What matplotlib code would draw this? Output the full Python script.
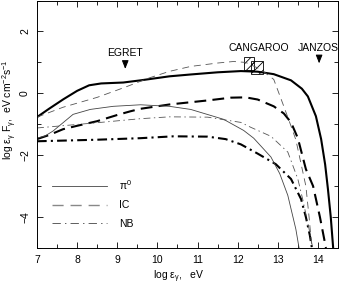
import matplotlib
matplotlib.use("Agg")
import matplotlib.pyplot as plt
from matplotlib.lines import Line2D
from matplotlib.patches import Rectangle

plt.rcParams['font.family'] = ['Liberation Sans', 'DejaVu Sans']
plt.rcParams['mathtext.default'] = 'regular'
plt.rcParams['lines.scale_dashes'] = False
plt.rcParams['hatch.linewidth'] = 0.6

# thick curves (model 1)
pi0_thick_x = [7.0, 7.3, 7.66, 8.0, 8.3, 8.6, 9.15, 9.58, 10.3, 10.83, 11.5, 12.08, 12.5, 12.9,
               13.33, 13.6, 13.75, 13.95, 14.08, 14.18, 14.25, 14.32, 14.38]
pi0_thick_y = [-0.77, -0.5, -0.19, 0.08, 0.26, 0.32, 0.35, 0.42, 0.55, 0.61, 0.68, 0.72, 0.7, 0.62,
               0.42, 0.15, -0.1, -0.74, -1.48, -2.3, -3.1, -4.0, -5.0]

ic_thick_x = [7.0, 7.3, 7.65, 8.0, 8.5, 9.0, 9.33, 9.58, 10.3, 11.25, 11.83, 12.2, 12.5, 12.9,
              13.15, 13.33, 13.5, 13.7, 13.88, 14.05, 14.2]
ic_thick_y = [-1.48, -1.35, -1.16, -1.05, -0.9, -0.7, -0.58, -0.5, -0.36, -0.23, -0.14, -0.13, -0.2,
              -0.42, -0.65, -0.94, -1.45, -2.45, -3.0, -4.0, -5.0]

nb_thick_x = [7.0, 8.5, 9.58, 10.4, 11.25, 11.7, 12.08, 12.5, 12.95, 13.33, 13.58, 13.7, 13.8, 13.85]
nb_thick_y = [-1.55, -1.5, -1.45, -1.39, -1.4, -1.48, -1.65, -1.95, -2.29, -2.77, -3.42, -4.0, -4.6, -5.0]

# thin curves (model 2)
pi0_thin_x = [7.0, 7.2, 7.4, 7.65, 7.9, 8.33, 8.9, 9.58, 10.3, 10.83, 11.65, 12.15, 12.4, 12.83,
              13.05, 13.25, 13.45, 13.53]
pi0_thin_y = [-1.45, -1.38, -1.22, -0.95, -0.68, -0.52, -0.42, -0.37, -0.42, -0.52, -0.84, -1.2,
              -1.45, -2.06, -2.6, -3.3, -4.39, -5.0]

ic_thin_x = [7.0, 7.65, 8.5, 9.2, 9.8, 10.3, 10.83, 11.5, 11.9, 12.2, 12.58, 12.9, 13.15, 13.33,
             13.45, 13.6, 13.7, 13.78, 13.85]
ic_thin_y = [-0.77, -0.45, -0.13, 0.2, 0.5, 0.71, 0.87, 0.98, 1.03, 1.0, 0.77, 0.45, -0.42, -1.06,
             -1.5, -2.4, -3.0, -4.0, -5.0]

nb_thin_x = [7.0, 8.5, 9.58, 10.3, 11.25, 12.08, 12.33, 12.83, 13.25, 13.5, 13.62, 13.78, 13.87]
nb_thin_y = [-1.12, -0.95, -0.82, -0.76, -0.77, -0.94, -1.1, -1.39, -1.9, -2.77, -3.42, -4.39, -5.0]

# CANGAROO boxes (x range, y range)
box_x0 = [12.15, 12.33]
box_x1 = [12.4, 12.63]
box_y0 = [0.77, 0.61]
box_y1 = [1.16, 1.03]

fig = plt.figure(figsize=(3.39, 2.85), dpi=100)
ax = fig.add_axes([0.109, 0.13, 0.888, 0.868])

ax.plot(pi0_thick_x, pi0_thick_y, color='black', lw=1.5)
ax.plot(ic_thick_x, ic_thick_y, color='black', lw=1.5, dashes=(8.5, 4.5))
ax.plot(nb_thick_x, nb_thick_y, color='black', lw=1.5, dashes=(7, 3, 1.5, 3))
ax.plot(pi0_thin_x, pi0_thin_y, color='#444444', lw=0.6)
ax.plot(ic_thin_x, ic_thin_y, color='#555555', lw=0.6, dashes=(5, 3.5))
ax.plot(nb_thin_x, nb_thin_y, color='#555555', lw=0.6, dashes=(5, 2.5, 1, 2.5))

for i in range(len(box_x0)):
    ax.add_patch(Rectangle((box_x0[i], box_y0[i]), box_x1[i] - box_x0[i], box_y1[i] - box_y0[i],
                           fill=False, hatch='////', lw=0.6, edgecolor='black'))

# labels for experiments
fs = 7.5
ax.text(9.2, 1.32, 'EGRET', ha='center', va='center', fontsize=fs)
ax.annotate('', xy=(9.2, 0.7), xytext=(9.2, 1.02),
            arrowprops=dict(arrowstyle='-|>,head_length=0.5,head_width=0.2', color='black', lw=0.7))
ax.text(12.53, 1.45, 'CANGAROO', ha='center', va='center', fontsize=fs)
ax.text(14.0, 1.45, 'JANZOS', ha='center', va='center', fontsize=fs)
ax.annotate('', xy=(14.03, 0.88), xytext=(14.03, 1.16),
            arrowprops=dict(arrowstyle='-|>,head_length=0.5,head_width=0.2', color='black', lw=0.7))

handles = [Line2D([], [], color='#444444', lw=0.6),
           Line2D([], [], color='#888888', lw=1.0, dashes=(8, 5)),
           Line2D([], [], color='#444444', lw=0.6, dashes=(6, 3, 1, 3))]
ax.legend(handles, [r'$\pi^0$', 'IC', 'NB'], loc='lower left', bbox_to_anchor=(0.02, 0.04),
          frameon=False, fontsize=fs, handlelength=5.2, handletextpad=1.2, labelspacing=0.8)

ax.set_xlim(7, 14.5)
ax.set_ylim(-5, 3)
ax.set_xticks(range(7, 15))
ax.set_xticks([7.5 + i for i in range(8)], minor=True)
ax.set_yticks([-4, -2, 0, 2])
ax.set_yticks([-5, -3, -1, 1, 3], minor=True)
ax.tick_params(which='both', direction='in', top=True, right=True, labelsize=fs, width=0.6)
ax.tick_params(which='major', length=4)
ax.tick_params(which='minor', length=3)
ax.tick_params(axis='x', pad=5)
ax.tick_params(axis='y', pad=5)
for lab in ax.get_yticklabels():
    lab.set_rotation(90)
    lab.set_va('center')
for sp in ax.spines.values():
    sp.set_linewidth(0.7)

ax.set_xlabel('log ε$_\\gamma$,   eV', fontsize=fs)
ax.xaxis.set_label_coords(0.47, -0.085)
ax.set_ylabel('log ε$_\\gamma$ F$_\\gamma$,  eV cm$^{-2}$s$^{-1}$', fontsize=fs)
ax.yaxis.set_label_coords(-0.058, 0.56)

fig.savefig('out.png', dpi=100)
